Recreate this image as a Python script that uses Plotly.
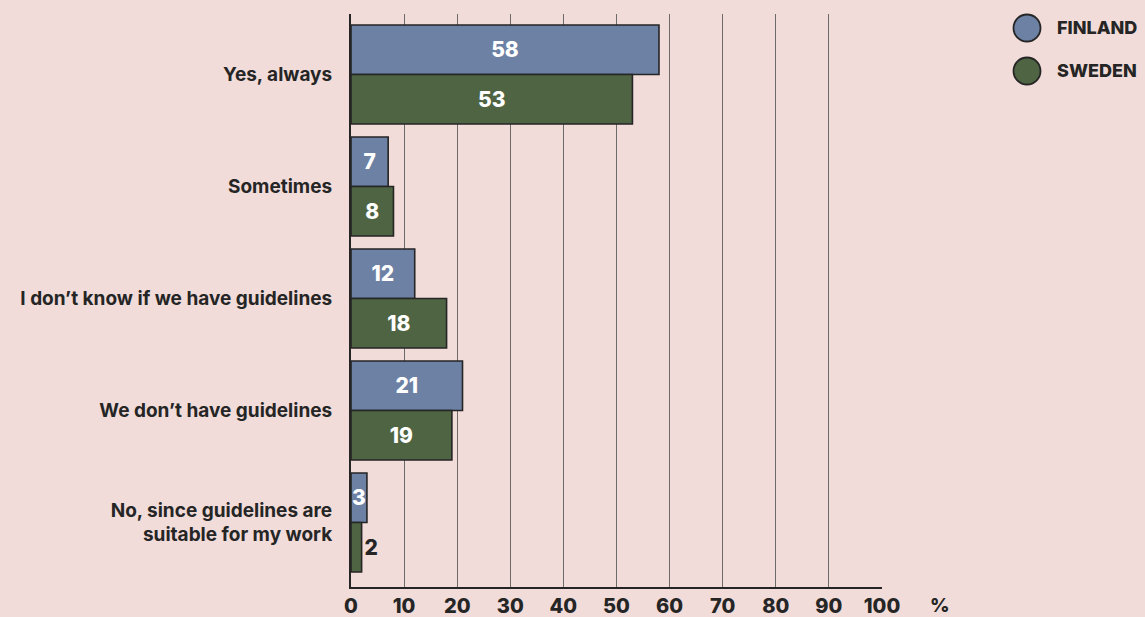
import plotly.graph_objects as go

# Survey answers, top to bottom
categories = [
    "Yes, always",
    "Sometimes",
    "I don’t know if we have guidelines",
    "We don’t have guidelines",
    "No, since guidelines are<br>suitable for my work",
]
finland = [58, 7, 12, 21, 3]
sweden = [53, 8, 18, 19, 2]
series_names = ["FINLAND", "SWEDEN"]
x_ticks = [0, 10, 20, 30, 40, 50, 60, 70, 80, 90, 100]

BG = "#f1dcd9"
INK = "#252525"
C_FI = "#6d81a5"
C_SE = "#4f6443"
FONT = "Inter"

W, H = 1145, 617
M_L, M_R, M_T, M_B = 351, 263, 14, 30
PLOT_W = W - M_L - M_R
PLOT_H = H - M_T - M_B

def label_positions(vals, min_inside):
    return ["inside" if v >= min_inside else "outside" for v in vals]

fig = go.Figure()
for name, vals, color in [(series_names[0], finland, C_FI), (series_names[1], sweden, C_SE)]:
    fig.add_trace(go.Bar(
        y=categories, x=vals, orientation="h", name=name,
        marker=dict(color=color, line=dict(color=INK, width=1.6)),
        text=[str(v) for v in vals],
        textposition=label_positions(vals, 3),
        insidetextanchor="middle",
        constraintext="none",
        textfont=dict(family=FONT, size=21, color="white", weight=800),
        outsidetextfont=dict(family=FONT, size=21, color=INK, weight=800),
        cliponaxis=False,
        showlegend=False,
    ))

fig.update_layout(
    width=W, height=H,
    paper_bgcolor=BG, plot_bgcolor=BG,
    margin=dict(l=M_L, r=M_R, t=M_T, b=M_B),
    barmode="group", bargap=0.116, bargroupgap=0,
    font=dict(family=FONT, color=INK),
    xaxis=dict(
        range=[0, 100], tickvals=x_ticks, ticktext=[str(t) for t in x_ticks],
        showgrid=True, gridcolor="#6e6a69", gridwidth=1,
        zeroline=False, showline=True, linecolor=INK, linewidth=2,
        ticks="", ticklabelstandoff=0, automargin=False,
        tickfont=dict(family=FONT, size=20, color=INK, weight=800),
    ),
    yaxis=dict(
        autorange=False, range=[4.576, -0.54],
        showgrid=False, zeroline=False, showline=True, linecolor=INK, linewidth=2,
        ticks="", ticklabelstandoff=13, automargin=False,
        tickfont=dict(family=FONT, size=19, color=INK, weight=700),
    ),
)

# Unit label after the last tick
fig.add_annotation(x=1.0, xref="paper", xshift=58, y=0, yref="paper", yshift=-18,
                   text="%", showarrow=False, xanchor="center", yanchor="middle",
                   borderpad=0,
                   font=dict(family=FONT, size=19, color=INK, weight=800))

# Legend: outlined circles with capitals
for i, (name, color) in enumerate([(series_names[0], C_FI), (series_names[1], C_SE)]):
    cy = 28 + i * 43
    yp = 1 - (cy - M_T) / PLOT_H
    fig.add_shape(type="circle", xref="paper", yref="paper",
                  xsizemode="pixel", ysizemode="pixel",
                  xanchor=1 + (1027 - 882) / PLOT_W, yanchor=yp,
                  x0=-13.5, x1=13.5, y0=-13.5, y1=13.5,
                  fillcolor=color, line=dict(color=INK, width=1.8))
    fig.add_annotation(x=1 + (1055 - 882) / PLOT_W, xref="paper", y=yp, yref="paper",
                       text=name, showarrow=False, xanchor="left", yanchor="middle",
                       font=dict(family=FONT, size=18, color=INK, weight=800))

fig.write_html("out.html")
